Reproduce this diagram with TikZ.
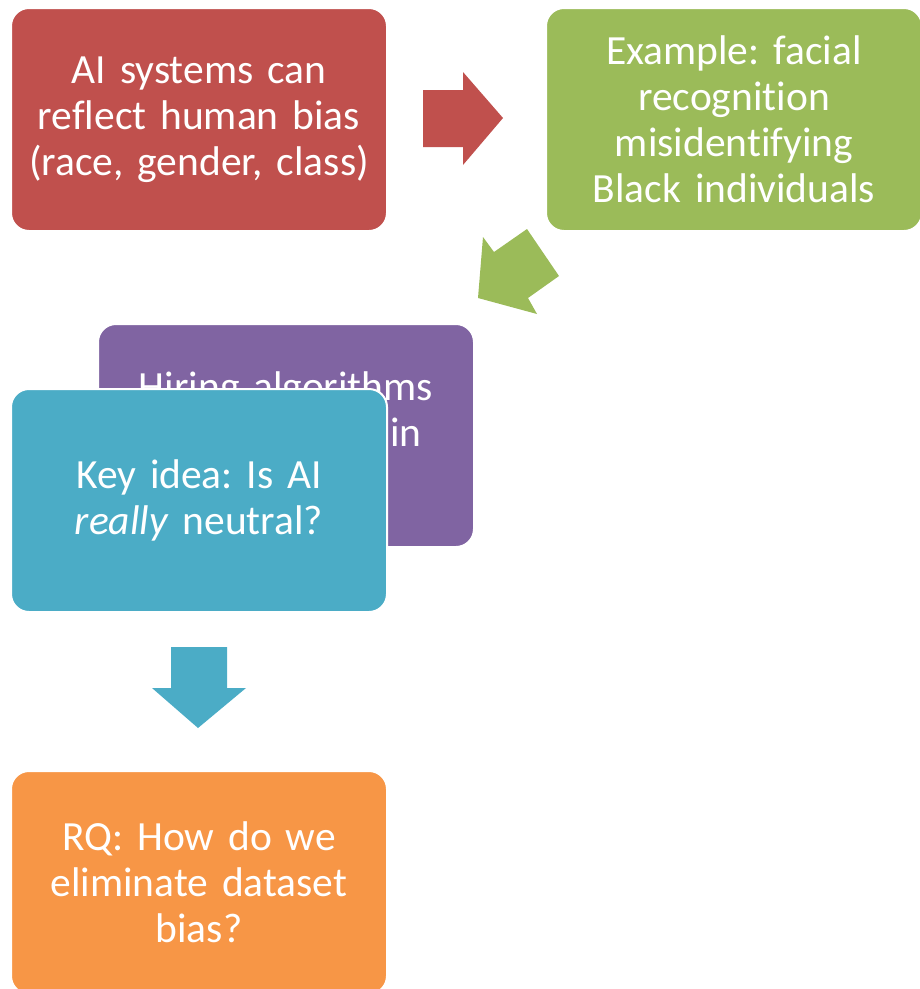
\documentclass[tikz,border=0pt]{standalone}
\usepackage{fontspec}
\setmainfont{Carlito}[Ligatures=NoCommon]
\definecolor{cred}{HTML}{C0504D}
\definecolor{cgreen}{HTML}{9BBB59}
\definecolor{cpurple}{HTML}{8064A2}
\definecolor{cblue}{HTML}{4BACC6}
\definecolor{corange}{HTML}{F79646}
\tikzset{
  box/.style={draw=white, line width=2pt, rounded corners=18pt, anchor=north west,
    minimum width=376pt, minimum height=223pt, inner sep=0pt,
    text=white, align=center, text width=372pt,
    font=\fontsize{41.5}{46}\selectfont\frenchspacing},
}
\begin{document}
\begin{tikzpicture}[x=1pt,y=-1pt]
\useasboundingbox (0,0) rectangle (920,989);
\node[box, fill=cred] (r) at (10,7) {AI systems can\\reflect human bias\\(race, gender, class)};
\node[box, fill=cgreen] (g) at (545,7) {Example: facial\\recognition\\misidentifying\\Black individuals};
\fill[cred] (423,90) -- (463,90) -- (463,72) -- (503,118) -- (463,165) -- (463,147) -- (423,147) -- cycle;
\fill[cgreen] (483,237) -- (494,252) -- (527,229) -- (559,276) -- (528,298) -- (537,314) -- (478,298) -- cycle;
\node[box, fill=cpurple] (p) at (97,323) {Hiring algorithms\\favoring men in\\tech hiring};
\node[box, fill=cblue] (b) at (10,388) {Key idea: Is AI\\\textit{really} neutral?};
\fill[cblue] (171,647) -- (227,647) -- (227,688) -- (246,688) -- (198,728) -- (152,688) -- (171,688) -- cycle;
\node[box, fill=corange] (o) at (10,770) {RQ: How do we\\eliminate dataset\\bias?};
\end{tikzpicture}
\end{document}
